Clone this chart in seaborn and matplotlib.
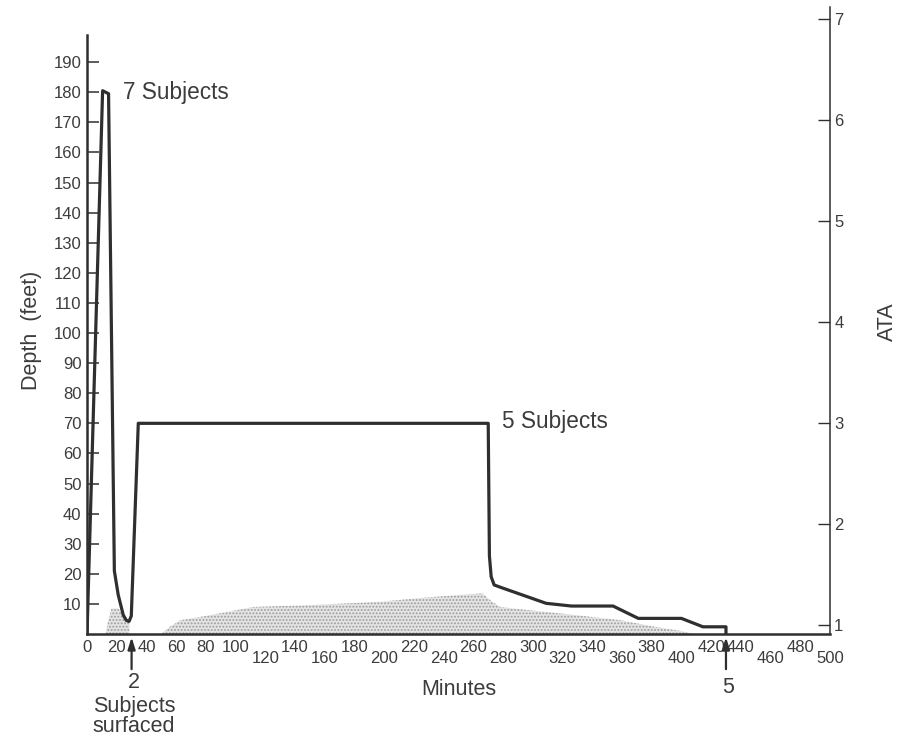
import matplotlib
matplotlib.use("Agg")
import matplotlib.pyplot as plt
import pandas as pd
import seaborn as sns

# Dive profile: elapsed time (minutes) against depth (feet)
minutes = [0, 10.5, 14.5, 18.4, 21.0, 24.4, 26.5, 28.3, 29.8, 34.5,
           270.0, 270.8, 272.0, 274.0, 279.0, 309.0, 326.0, 354.0,
           371.0, 400.0, 414.5, 430.0, 430.0]
depth_ft = [0, 180.5, 179.5, 21, 13, 6.3, 4.5, 4.2, 6, 70,
            70, 26, 19, 16.3, 15.4, 10.2, 9.3, 9.3,
            5.2, 5.2, 2.4, 2.4, 0]

# Stippled bands near the surface
band1_min = [12.5, 14.5, 16.5, 21, 25, 28.5]
band1_ft = [0, 5, 8.5, 8.5, 6, 4.2]
band2_min = [50, 56, 63, 80, 95, 112, 150, 197, 225, 251, 266, 272,
             278, 296, 325, 359, 381, 400, 408]
band2_ft = [0, 2.5, 4.6, 6, 7.4, 9, 9.6, 10.7, 12, 13, 13.5, 11,
            9, 8, 6.5, 4.6, 2.5, 1, 0]

# Axis ticks
x_ticks = list(range(0, 501, 20))
x_lower_row = [120, 160, 200, 240, 280, 320, 360, 400, 460, 500]
depth_ticks = list(range(10, 191, 10))
ata_ticks = [1, 2, 3, 4, 5, 6, 7]

ink = "#2f2f2f"
text_ink = "#3c3c3c"

sns.set_theme(style="white")
plt.rcParams["font.family"] = ["Liberation Sans", "DejaVu Sans"]
plt.rcParams["hatch.linewidth"] = 0.9

fig = plt.figure(figsize=(8.97, 7.40), dpi=100)
ax = fig.add_axes([0.097, 0.1432, 0.8283, 0.8473])

# stippled bands
for bx, by in ((band1_min, band1_ft), (band2_min, band2_ft)):
    ax.fill_between(bx, by, 0, facecolor="#e4e4e4", edgecolor="#9c9c9c",
                    hatch=".....", linewidth=0, zorder=1)

profile = pd.DataFrame({"Minutes": minutes, "Depth": depth_ft})
sns.lineplot(data=profile, x="Minutes", y="Depth", sort=False,
             estimator=None, color=ink, linewidth=2.3, ax=ax, zorder=3)

ax.set_xlim(0, 500)
ax.set_ylim(0, 208.3)

# spines
for side in ("top", "right"):
    ax.spines[side].set_visible(False)
for side in ("left", "bottom"):
    ax.spines[side].set_color(ink)
    ax.spines[side].set_linewidth(1.8)
ax.spines["left"].set_bounds(0, 199)

# left axis
ax.set_yticks(depth_ticks)
ax.set_yticklabels([str(v) for v in depth_ticks])
ax.tick_params(axis="y", direction="in", length=8.5, width=1.1,
               color=ink, labelcolor=text_ink, labelsize=12, pad=4)
ax.set_ylabel("Depth  (feet)", fontsize=15.5, color=text_ink)
ax.yaxis.set_label_coords(-0.060, 0.485)

# bottom axis with staggered labels
ax.set_xticks(x_ticks)
ax.set_xticklabels([str(v) for v in x_ticks])
ax.tick_params(axis="x", direction="in", length=9, width=1.1,
               color=ink, labelcolor=text_ink, labelsize=12)
ax.set_xlabel("Minutes", fontsize=15.5, color=text_ink)
ax.xaxis.set_label_coords(0.5, -0.071)
for tick, val in zip(ax.xaxis.get_major_ticks(), x_ticks):
    tick.set_pad(12.3 if val in x_lower_row else 4.4)

# right axis in atmospheres absolute
ax2 = ax.twinx()
ax2.set_ylim(0.906, 7.114)
ax2.set_yticks(ata_ticks)
ax2.set_yticklabels([str(v) for v in ata_ticks])
ax2.tick_params(axis="y", direction="in", length=9, width=1.0,
                color=ink, labelcolor=text_ink, labelsize=12, pad=3)
for side in ("top", "left", "bottom"):
    ax2.spines[side].set_visible(False)
ax2.spines["right"].set_color(ink)
ax2.spines["right"].set_linewidth(1.1)
ax2.set_ylabel("ATA", fontsize=15.5, color=text_ink)
ax2.yaxis.set_label_coords(1.063, 0.4976)
ax2.grid(False)
ax.grid(False)

# annotations
ax.text(24.5, 180, "7 Subjects", fontsize=16.3, color=text_ink,
        ha="left", va="center")
ax.text(279.5, 70.5, "5 Subjects", fontsize=16.3, color=text_ink,
        ha="left", va="center")

xtrans = ax.get_xaxis_transform()
for x_at, label, label_y in ((30, "2", -0.0766), (430, "5", -0.0845)):
    ax.annotate("", xy=(x_at, -0.005), xycoords=xtrans,
                xytext=(x_at, -0.056), textcoords=xtrans,
                arrowprops=dict(arrowstyle="-|>,head_length=0.7,head_width=0.22",
                                color=ink, lw=1.6, mutation_scale=10,
                                shrinkA=0, shrinkB=0),
                annotation_clip=False)
    ax.text(x_at + 1.5, label_y, label, transform=xtrans, fontsize=15.5,
            color=text_ink, ha="center", va="center", clip_on=False)

ax.text(31.5, -0.132, "Subjects\nsurfaced", transform=xtrans, fontsize=15.5,
        color=text_ink, ha="center", va="center", linespacing=0.95,
        clip_on=False)

fig.savefig("out.png", dpi=100, facecolor="white")
